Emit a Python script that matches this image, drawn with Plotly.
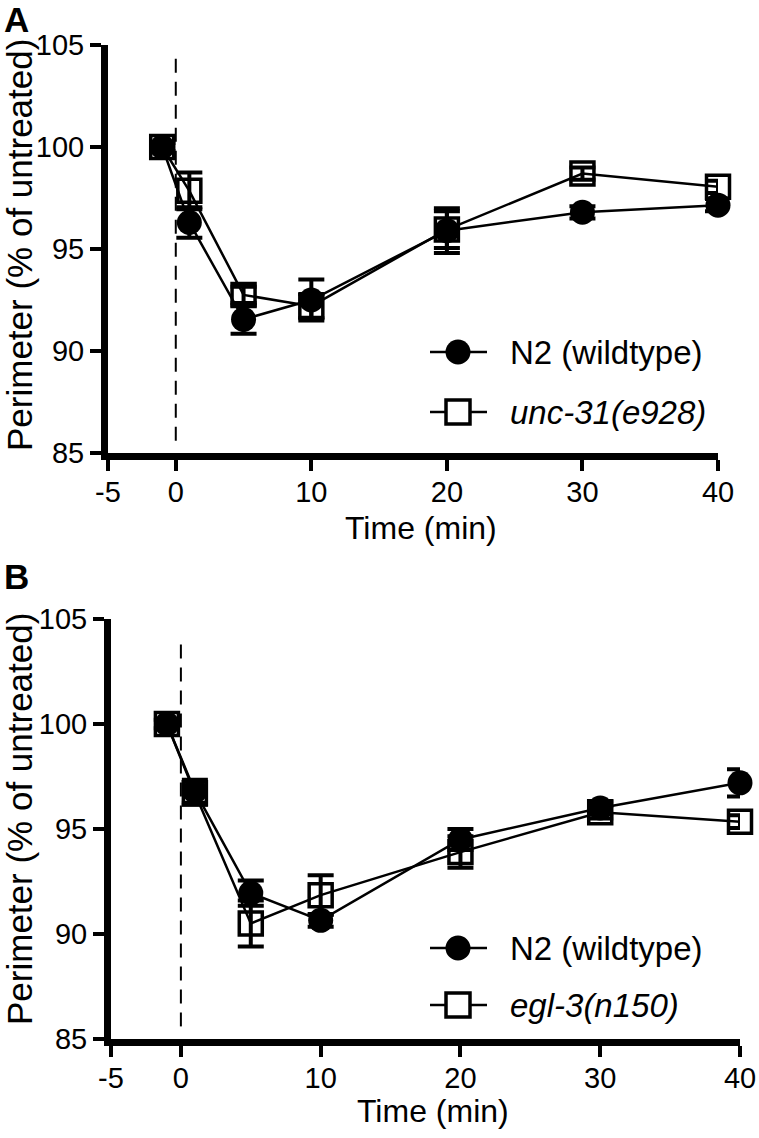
import plotly.graph_objects as go

# ---------------- data ----------------
time_min = [-1, 1, 5, 10, 20, 30, 40]

# Panel A
a_n2 = [100, 96.3, 91.55, 92.5, 95.9, 96.8, 97.15]
a_n2_err = [0.2, 0.75, 0.7, 1.0, 1.1, 0.3, 0.3]
a_unc31 = [100, 97.85, 92.75, 92.2, 95.95, 98.7, 98.05]
a_unc31_err = [0.2, 0.9, 0.4, 0.6, 0.9, 0.3, 0.3]

# Panel B
b_n2 = [100, 96.8, 91.95, 90.65, 94.5, 96.0, 97.2]
b_n2_err = [0.2, 0.55, 0.6, 0.3, 0.5, 0.3, 0.65]
b_egl3 = [100, 96.7, 90.5, 91.85, 93.9, 95.8, 95.35]
b_egl3_err = [0.2, 0.55, 1.1, 0.95, 0.75, 0.3, 0.3]

x_ticks = [-5, 0, 10, 20, 30, 40]
x_tick_text = ["-5", "0", "10", "20", "30", "40"]
y_ticks = [85, 90, 95, 100, 105]
series_names_a = ["N2 (wildtype)", "<i>unc-31(e928)</i>"]
series_names_b = ["N2 (wildtype)", "<i>egl-3(n150)</i>"]

W, H = 759, 1138
FONT = "Arial, Liberation Sans, sans-serif"


def px_x(p):
    return p / W


def px_y(p):
    return 1 - p / H


fig = go.Figure()


def add_pair(xa, ya, n2, n2e, mut, mute):
    err = dict(type="data", visible=True, color="black", thickness=4, width=13)
    fig.add_trace(go.Scatter(
        x=time_min, y=mut, mode="lines+markers", xaxis=xa, yaxis=ya,
        line=dict(color="black", width=2.5),
        marker=dict(symbol="square-open", size=23, color="black",
                    line=dict(color="black", width=3.5)),
        error_y=dict(array=mute, **err), cliponaxis=False, showlegend=False))
    fig.add_trace(go.Scatter(
        x=time_min, y=n2, mode="lines+markers", xaxis=xa, yaxis=ya,
        line=dict(color="black", width=2.5),
        marker=dict(symbol="circle", size=25, color="black"),
        error_y=dict(array=n2e, **err), cliponaxis=False, showlegend=False))


add_pair("x", "y", a_n2, a_n2_err, a_unc31, a_unc31_err)
add_pair("x2", "y2", b_n2, b_n2_err, b_egl3, b_egl3_err)

axis_common = dict(showline=True, linewidth=7, linecolor="black", ticks="outside",
                   ticklen=11, tickwidth=4, tickcolor="black", showgrid=False,
                   zeroline=False, automargin=False,
                   tickfont=dict(family=FONT, size=29, color="black"))

fig.update_layout(
    template="none",
    width=W, height=H, margin=dict(l=0, r=0, t=0, b=0, autoexpand=False),
    paper_bgcolor="white", plot_bgcolor="white", showlegend=False,
    xaxis=dict(domain=[px_x(108), px_x(718)], range=[-5, 40], tickvals=x_ticks,
               ticktext=x_tick_text, anchor="y", ticklabelstandoff=-4, **axis_common),
    yaxis=dict(domain=[px_y(453), px_y(45)], range=[85, 105], tickvals=y_ticks,
               anchor="x", **axis_common),
    xaxis2=dict(domain=[px_x(111), px_x(740)], range=[-5, 40], tickvals=x_ticks,
                ticktext=x_tick_text, anchor="y2", ticklabelstandoff=-4, **axis_common),
    yaxis2=dict(domain=[px_y(1039), px_y(619)], range=[85, 105], tickvals=y_ticks,
                anchor="x2", **axis_common),
)

# dashed treatment line at t = 0
for xr, yr, top in [("x", "y domain", 0.988), ("x2", "y2 domain", 0.957)]:
    fig.add_shape(type="line", xref=xr, yref=yr, x0=0, x1=0, y0=0.03, y1=top,
                  line=dict(color="black", width=2, dash="14px,9px"), layer="below")

annotations = []
# panel letters
annotations.append(dict(text="<b>A</b>", x=px_x(2), y=px_y(19), xref="paper", yref="paper",
                        xanchor="left", yanchor="middle", showarrow=False,
                        font=dict(family=FONT, size=35, color="black")))
annotations.append(dict(text="<b>B</b>", x=px_x(2), y=px_y(576), xref="paper", yref="paper",
                        xanchor="left", yanchor="middle", showarrow=False,
                        font=dict(family=FONT, size=35, color="black")))
# axis titles
for cy in [245, 819]:
    annotations.append(dict(text="Perimeter (% of untreated)", x=px_x(19), y=px_y(cy),
                            xref="paper", yref="paper", textangle=-90, showarrow=False,
                            xanchor="center", yanchor="middle",
                            font=dict(family=FONT, size=35, color="black")))
for cx, cy in [(421, 528), (433, 1111)]:
    annotations.append(dict(text="Time (min)", x=px_x(cx), y=px_y(cy), xref="paper",
                            yref="paper", showarrow=False, xanchor="center",
                            yanchor="middle",
                            font=dict(family=FONT, size=32, color="black")))

# legends
shapes = []
for names, rows in [(series_names_a, (352, 412)), (series_names_b, (948, 1005))]:
    for i, (name, ry) in enumerate(zip(names, rows)):
        yc = px_y(ry)
        shapes.append(dict(type="line", xref="paper", yref="paper", x0=px_x(430),
                           x1=px_x(487), y0=yc, y1=yc, line=dict(color="black", width=2.5)))
        if i == 0:
            shapes.append(dict(type="circle", xref="paper", yref="paper",
                               xsizemode="pixel", ysizemode="pixel",
                               xanchor=px_x(458), yanchor=yc,
                               x0=-12.5, x1=12.5, y0=-12.5, y1=12.5,
                               fillcolor="black", line=dict(color="black", width=0)))
        else:
            shapes.append(dict(type="rect", xref="paper", yref="paper",
                               xsizemode="pixel", ysizemode="pixel",
                               xanchor=px_x(458), yanchor=yc,
                               x0=-12, x1=12, y0=-12, y1=12,
                               fillcolor="white", line=dict(color="black", width=3.5)))
        annotations.append(dict(text=name, x=px_x(508), y=yc, xref="paper", yref="paper",
                                xanchor="left", yanchor="middle", showarrow=False,
                                font=dict(family=FONT, size=33, color="black")))

for s in shapes:
    fig.add_shape(**s)
fig.update_layout(annotations=annotations)

fig.write_html("out.html", config={"displayModeBar": False},
               post_script="document.body.style.margin='0';")
